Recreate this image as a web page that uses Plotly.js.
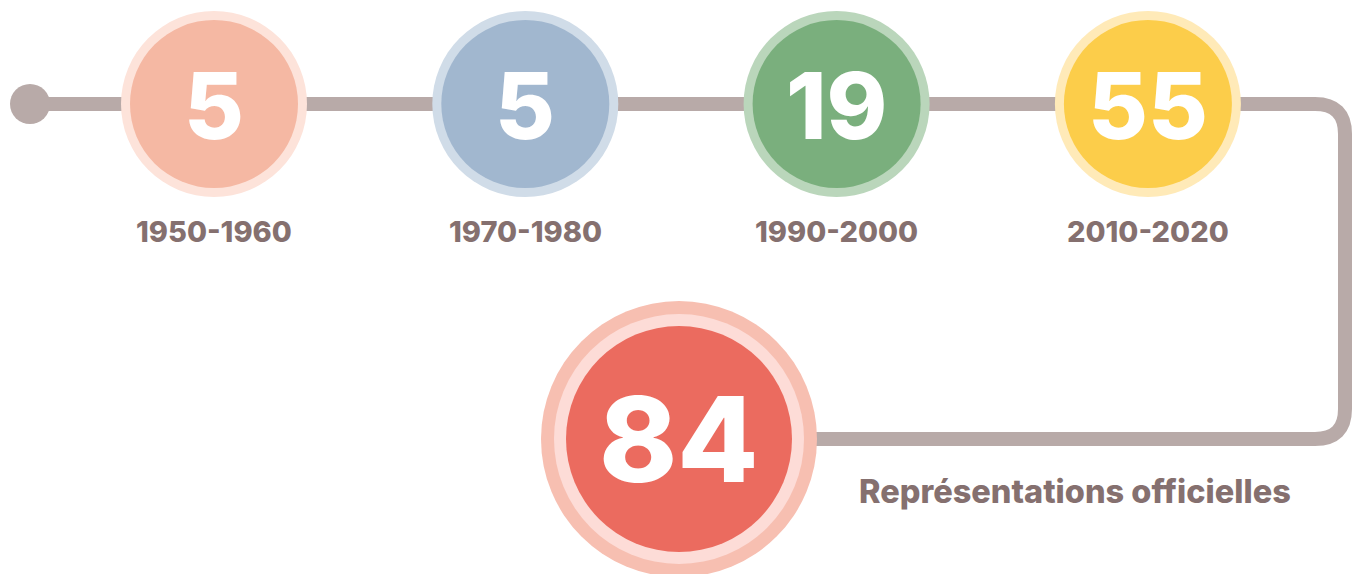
<!DOCTYPE html>
<html><head><meta charset="utf-8">
<script src="https://cdn.plot.ly/plotly-3.0.1.min.js"></script>
<style>html,body{margin:0;padding:0;background:#fff}#chart{width:1355px;height:574px}</style>
</head><body><div id="chart"></div>
<script>
// ---- data ----
const periods = ['1950-1960', '1970-1980', '1990-2000', '2010-2020'];
const counts = [5, 5, 19, 55];
const totalLabel = 'Représentations officielles';
const totalCount = 84;
const innerColors = ['#f5b8a3', '#a1b7cf', '#7aaf7d', '#fccd4a'];
const ringColors = ['#fde3da', '#d0dce8', '#bad6bb', '#ffeab8'];

// ---- layout constants (pixel-unit axes) ----
const W = 1355, H = 574;
const x0 = 214, dx = 311.3, yTop = 104;
const xs = periods.map((_, i) => x0 + i * dx);
const ys = periods.map(() => yTop);
const bigX = 679, bigY = 439;
const lineColor = '#b8aaa8';
const textColor = '#85706f';
const FONT = 'Inter, Lato, sans-serif';

const traces = [
  {x: [30], y: [yTop], mode: 'markers', marker: {size: 40, color: lineColor}, hoverinfo: 'skip'},
  {x: xs, y: ys, mode: 'markers', marker: {size: 186, color: ringColors, line: {width: 0}}, hoverinfo: 'skip'},
  {x: xs, y: ys, mode: 'markers', marker: {size: 168, color: innerColors, line: {width: 0}}, hoverinfo: 'skip'},
  {x: [bigX], y: [bigY], mode: 'markers', marker: {size: 276, color: '#f7bfb1', line: {width: 0}}, hoverinfo: 'skip'},
  {x: [bigX], y: [bigY], mode: 'markers', marker: {size: 250, color: '#fddcd7', line: {width: 0}}, hoverinfo: 'skip'},
  {x: [bigX], y: [bigY], mode: 'markers', marker: {size: 226, color: '#eb6b5f', line: {width: 0}}, hoverinfo: 'skip'}
];

const annotations = [];
xs.forEach((x, i) => {
  annotations.push({x: x, y: yTop, xref: 'x', yref: 'y', text: String(counts[i]), showarrow: false,
    xanchor: 'center', yanchor: 'middle', yshift: -1,
    font: {family: FONT, size: 92, color: '#ffffff', weight: 800}});
  annotations.push({x: x, y: 231, xref: 'x', yref: 'y', text: periods[i], showarrow: false,
    xanchor: 'center', yanchor: 'middle',
    font: {family: FONT, size: 29, color: textColor, weight: 800}});
});
annotations.push({x: bigX, y: bigY, xref: 'x', yref: 'y', text: String(totalCount), showarrow: false,
  xanchor: 'center', yanchor: 'middle', yshift: 0,
  font: {family: FONT, size: 118, color: '#ffffff', weight: 800}});
annotations.push({x: 1075, y: 491, xref: 'x', yref: 'y', text: totalLabel, showarrow: false,
  xanchor: 'center', yanchor: 'middle',
  font: {family: FONT, size: 32.5, color: textColor, weight: 800}});

const r = 30, xr = 1345;
const path = `M 30 ${yTop} L ${xr - r} ${yTop} Q ${xr} ${yTop} ${xr} ${yTop + r} L ${xr} ${bigY - r} Q ${xr} ${bigY} ${xr - r} ${bigY} L ${bigX} ${bigY}`;

const layout = {
  width: W, height: H,
  margin: {l: 0, r: 0, t: 0, b: 0},
  paper_bgcolor: '#ffffff', plot_bgcolor: '#ffffff',
  showlegend: false, hovermode: false,
  xaxis: {range: [0, W], visible: false, fixedrange: true},
  yaxis: {range: [H, 0], visible: false, fixedrange: true},
  shapes: [{type: 'path', path: path, xref: 'x', yref: 'y', layer: 'below',
    line: {color: lineColor, width: 14}}],
  annotations: annotations
};

Plotly.newPlot('chart', traces, layout, {staticPlot: true, displayModeBar: false});
</script></body></html>
